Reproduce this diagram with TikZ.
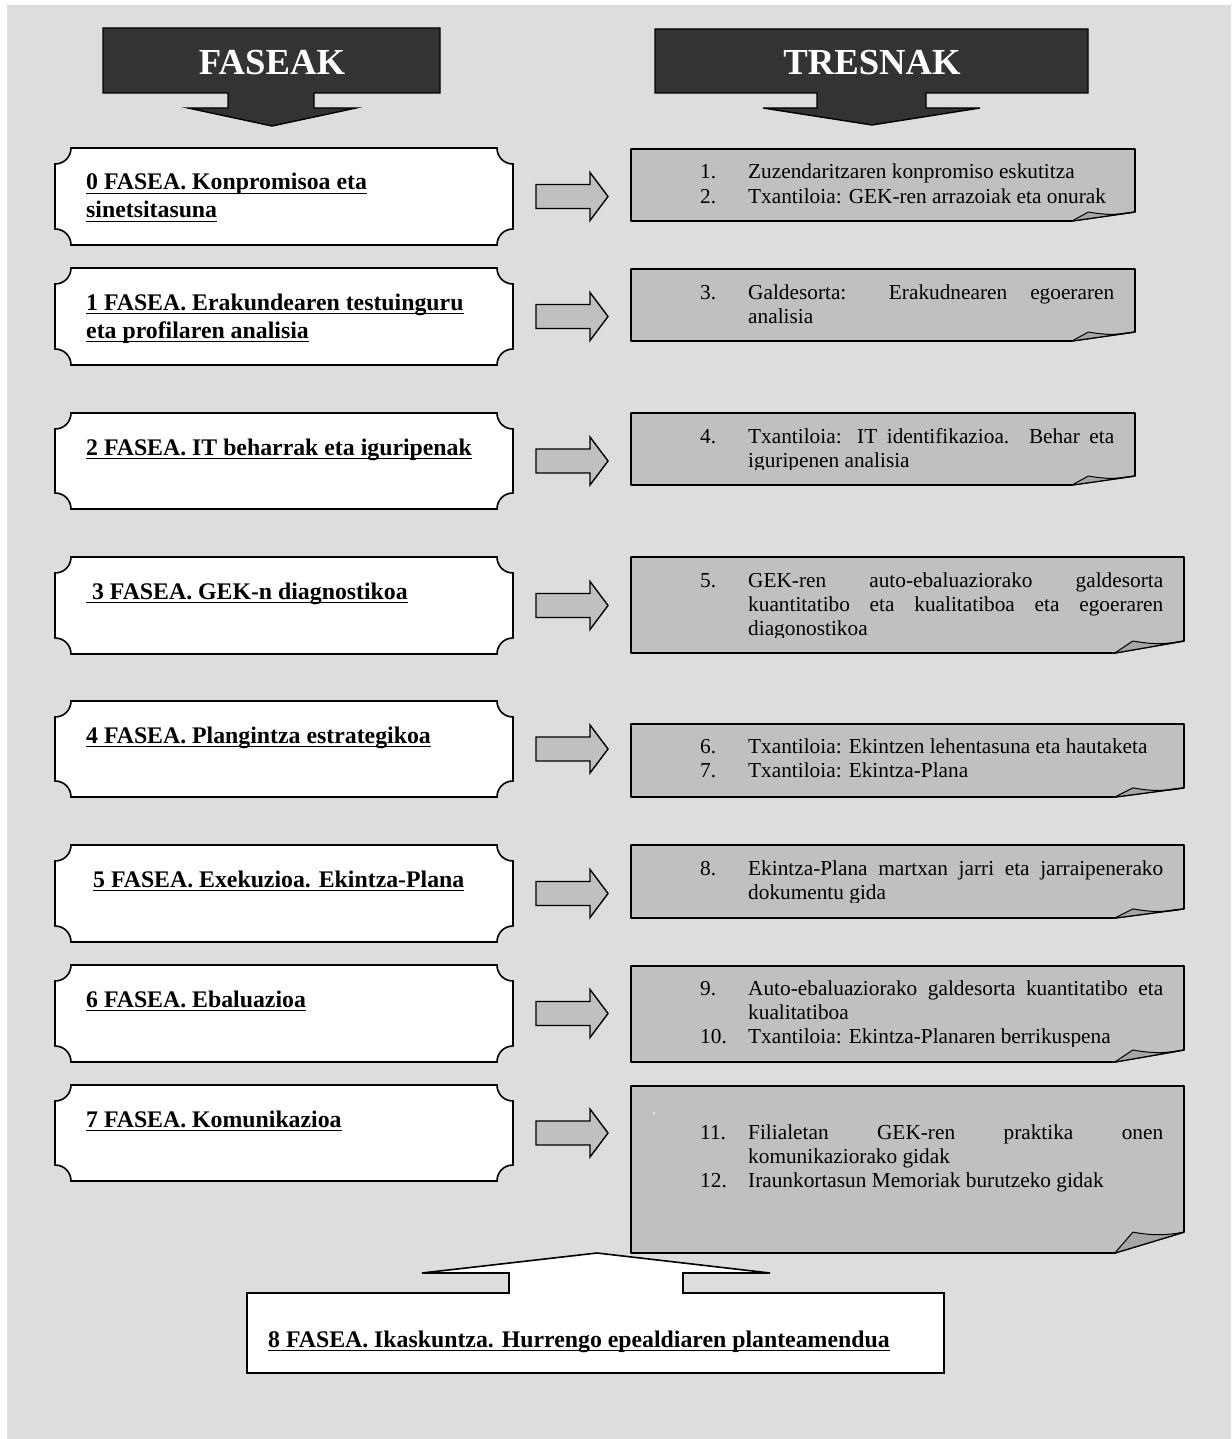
\documentclass[tikz,border=0pt]{standalone}
\usepackage{fontspec}
\setmainfont{Liberation Serif}
\usepackage{tikz}
\usetikzlibrary{positioning}
\definecolor{bggrey}{RGB}{221,221,221}
\definecolor{toolgrey}{RGB}{192,192,192}
\definecolor{flapgrey}{RGB}{166,166,166}
\definecolor{headgrey}{RGB}{51,51,51}
\hyphenpenalty=10000 \exhyphenpenalty=10000
\newcommand\undl[1]{\setbox0\hbox{#1}\rlap{\vrule height -2.6pt depth 4.4pt width \wd0}\box0}
\newcommand\itm[2]{\par\noindent\hangindent=48pt\hangafter=1\makebox[48pt][l]{#1}#2\par}
\newcommand\toollist[2]{\vtop{\hsize=#1\parindent=0pt\parskip=0pt #2}}

\begin{document}
\begin{tikzpicture}[x=1pt, y=-1pt,
    phasetext/.style={anchor=base west, inner sep=0pt,
      font=\fontsize{23.8}{28}\selectfont\bfseries},
    tooltext/.style={anchor=base west, inner sep=0pt,
      font=\fontsize{21.3}{24.2}\selectfont},
    headtext/.style={anchor=base, inner sep=0pt, text=white,
      font=\fontsize{36.7}{40}\selectfont\bfseries},
    plaque/.style={draw, fill=white, line width=1.6pt},
    toolbox/.style={draw, fill=toolgrey, line width=1.6pt, line join=round},
    flap/.style={draw, fill=flapgrey, line width=1pt, line join=round},
    blockarrow/.style={draw, fill=toolgrey, line width=1.4pt},
    headarrow/.style={draw, fill=headgrey, line width=1.4pt}, ]
  \useasboundingbox (0,0) rectangle (1231,1439);
  \fill[bggrey] (7,5) rectangle (1231,1439);
  % Headers
  \draw[headarrow] (103,28) -- (440,28) -- (440,93) -- (314,93) -- (314,108)
    -- (356,108) -- (272,126) -- (188,108) -- (228,108) -- (228,93) -- (103,93) -- cycle;
  \draw[headarrow] (655,29) -- (1088,29) -- (1088,93) -- (926,93) -- (926,108)
    -- (980,108) -- (872,125) -- (763,108) -- (817,108) -- (817,93) -- (655,93) -- cycle;
  \node[headtext] (faseak) at (272,75) {FASEAK};
  \node[headtext] (tresnak) at (872,75) {TRESNAK};
  % Phase boxes
  \foreach \t/\b in {148/245, 268/365, 413/509, 557/654, 701/797, 845/942, 965/1062, 1085/1181}
    \draw[plaque] (71,\t) -- (497,\t) .. controls (497,\t+9) and (504,\t+16) .. (513,\t+16)
      -- (513,\b-16) .. controls (504,\b-16) and (497,\b-9) .. (497,\b)
      -- (71,\b) .. controls (71,\b-9) and (64,\b-16) .. (55,\b-16)
      -- (55,\t+16) .. controls (64,\t+16) and (71,\t+9) .. (71,\t) -- cycle;
  \node[phasetext] (f0) at (86,190)
    {\vtop{\hbox{\undl{0 FASEA. Konpromisoa eta}}\hbox{\undl{sinetsitasuna}}}};
  \node[phasetext] (f1) at (86,310)
    {\vtop{\hbox{\undl{1 FASEA. Erakundearen testuinguru}}\hbox{\undl{eta profilaren analisia}}}};
  \node[phasetext] (f2) at (86,455) {\undl{2 FASEA. IT beharrak eta iguripenak}};
  \node[phasetext] (f3) at (86,599) {\undl{\ 3 FASEA. GEK-n diagnostikoa}};
  \node[phasetext] (f4) at (86,743) {\undl{4 FASEA. Plangintza estrategikoa}};
  \node[phasetext] (f5) at (93,887) {\undl{5 FASEA. Exekuzioa. Ekintza-Plana}};
  \node[phasetext] (f6) at (86,1007) {\undl{6 FASEA. Ebaluazioa}};
  \node[phasetext] (f7) at (86,1127) {\undl{7 FASEA. Komunikazioa}};
  % Arrows
  \foreach \m in {196.5, 316.5, 461, 605.5, 749, 893.5, 1013.5, 1133}
    \draw[blockarrow] (536,\m-12) -- (590,\m-12) -- (590,\m-24) -- (608,\m)
      -- (590,\m+24) -- (590,\m+12) -- (536,\m+12) -- cycle;
  % Tool notes
  \foreach \t/\b/\r in {149/221/1135, 269/341/1135, 413/485/1135, 557/653/1184,
      724/797/1184, 845/918/1184, 966/1062/1184, 1086/1253/1184} {
    \pgfmathsetmacro\dx{0.125*(\r-631)}
    \pgfmathsetmacro\dy{0.125*(\b-\t)}
    \draw[toolbox] (631,\t) -- (\r,\t) -- (\r,\b-\dy) -- (\r-\dx,\b) -- (631,\b) -- cycle;
    \draw[flap] (\r-\dx,\b) -- (\r-0.74*\dx,\b-\dy) to[bend right=10] (\r,\b-\dy) -- cycle;
  }
  \begin{scope}
    \clip (631,149) rectangle (1135,206);
    \node[tooltext] (t0) at (700,179) {\toollist{414pt}
      {\itm{1.}{Zuzendaritzaren konpromiso eskutitza}\itm{2.}{Txantiloia: GEK-ren arrazoiak eta onurak}}};
  \end{scope}
  \begin{scope}
    \clip (631,269) rectangle (1135,325);
    \node[tooltext] (t1) at (700,299) {\toollist{414pt}
      {\itm{3.}{Galdesorta: Erakudnearen egoeraren \linebreak analisia}}};
  \end{scope}
  \begin{scope}
    \clip (631,413) rectangle (1135,469);
    \node[tooltext] (t2) at (700,443) {\toollist{414pt}
      {\itm{4.}{Txantiloia: IT identifikazioa. Behar eta \linebreak iguripenen analisia}}};
  \end{scope}
  \begin{scope}
    \clip (631,557) rectangle (1184,637);
    \node[tooltext] (t3) at (700,587) {\toollist{463pt}
      {\itm{5.}{GEK-ren auto-ebaluaziorako galdesorta \linebreak kuantitatibo eta kualitatiboa eta egoeraren \linebreak diagonostikoa}}};
  \end{scope}
  \begin{scope}
    \clip (631,724) rectangle (1184,790);
    \node[tooltext] (t4) at (700,753) {\toollist{463pt}
      {\itm{6.}{Txantiloia: Ekintzen lehentasuna eta hautaketa}\itm{7.}{Txantiloia: Ekintza-Plana}}};
  \end{scope}
  \begin{scope}
    \clip (631,845) rectangle (1184,902);
    \node[tooltext] (t5) at (700,875) {\toollist{463pt}
      {\itm{8.}{Ekintza-Plana martxan jarri eta jarraipenerako \linebreak dokumentu gida}}};
  \end{scope}
  \begin{scope}
    \clip (631,966) rectangle (1184,1046);
    \node[tooltext] (t6) at (700,995) {\toollist{463pt}
      {\itm{9.}{Auto-ebaluaziorako galdesorta kuantitatibo eta \linebreak kualitatiboa}\itm{10.}{Txantiloia: Ekintza-Planaren berrikuspena}}};
  \end{scope}
  \fill[white] (654,1113) circle (1);
  \node[tooltext] (t7) at (700,1139) {\toollist{463pt}
    {\itm{11.}{Filialetan GEK-ren praktika onen \linebreak komunikaziorako gidak}\itm{12.}{Iraunkortasun Memoriak burutzeko gidak}}};
  % Last phase
  \draw[plaque] (247,1373) -- (247,1293) -- (509,1293) -- (509,1273) -- (422,1273)
    -- (597,1253) -- (770,1273) -- (683,1273) -- (683,1293) -- (944,1293) -- (944,1373) -- cycle;
  \node[phasetext] (f8) at (268,1347) {\undl{8 FASEA. Ikaskuntza. Hurrengo epealdiaren planteamendua}};
\end{tikzpicture}
\end{document}
